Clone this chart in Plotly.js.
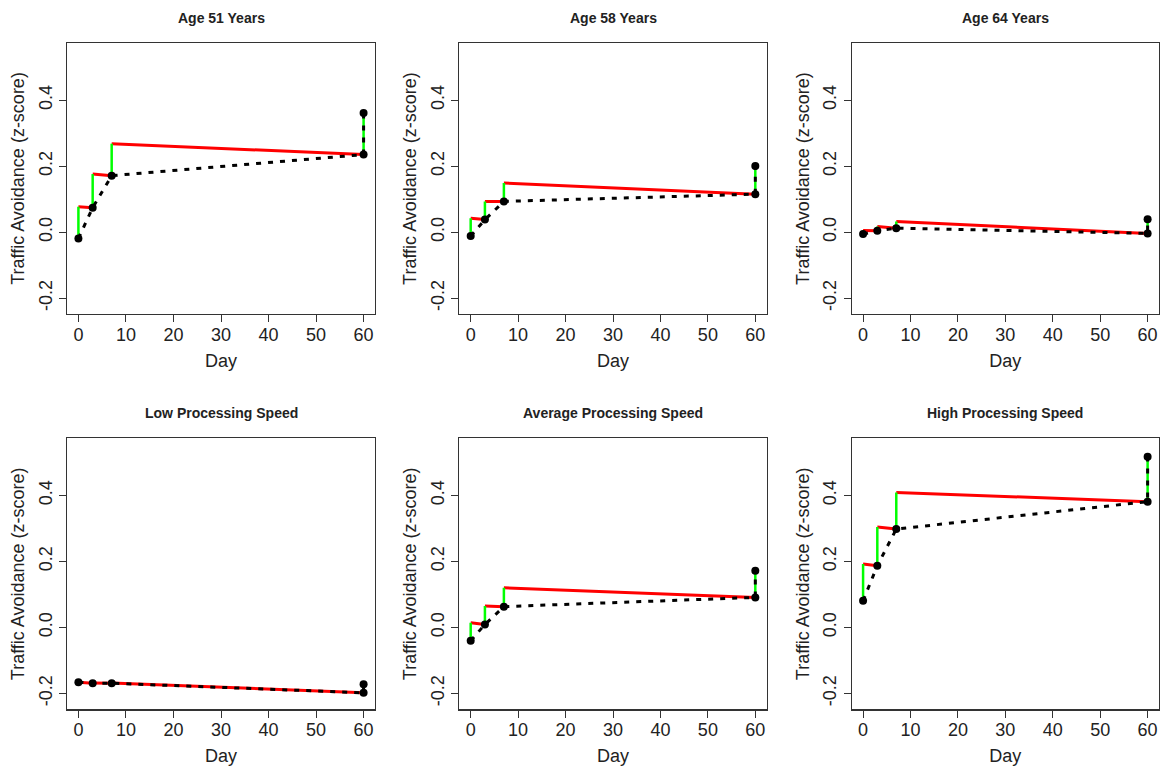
<!DOCTYPE html>
<html>
<head>
<meta charset="utf-8">
<script src="https://cdn.plot.ly/plotly-3.0.1.min.js"></script>
<style>html,body{margin:0;padding:0;background:#fff;}#chart{width:1168px;height:769px;}</style>
</head>
<body>
<div id="chart"></div>
<script>
// Measurement days
const days = [0, 3, 7, 60];

// Panel titles
const panelTitles = ["Age 51 Years", "Age 58 Years", "Age 64 Years",
  "Low Processing Speed", "Average Processing Speed", "High Processing Speed"];

// Value just before the boost at each day (black points)
const preAge51 = [-0.019, 0.074, 0.171, 0.235];
const preAge58 = [-0.012, 0.038, 0.093, 0.115];
const preAge64 = [-0.006, 0.004, 0.012, -0.004];
const preLow   = [-0.166, -0.169, -0.169, -0.198];
const preAvg   = [-0.040, 0.009, 0.063, 0.091];
const preHigh  = [0.081, 0.187, 0.298, 0.381];

// Value just after the boost at each day (top of green jumps)
const postAge51 = [0.077, 0.176, 0.268, 0.361];
const postAge58 = [0.042, 0.093, 0.149, 0.200];
const postAge64 = [0.005, 0.017, 0.032, 0.039];
const postLow   = [-0.166, -0.168, -0.168, -0.172];
const postAvg   = [0.014, 0.065, 0.120, 0.172];
const postHigh  = [0.192, 0.304, 0.409, 0.517];

// Tick labels
const xTickVals = [0, 10, 20, 30, 40, 50, 60];
const xTickText = ["0", "10", "20", "30", "40", "50", "60"];
const yTickVals = [-0.2, 0.0, 0.2, 0.4];
const yTickText = ["-0.2", "0.0", "0.2", "0.4"];

const pre = [preAge51, preAge58, preAge64, preLow, preAvg, preHigh];
const post = [postAge51, postAge58, postAge64, postLow, postAvg, postHigh];

const W = 1168, H = 769;
const xDomPx = [[67, 375], [459.3, 766.7], [851.7, 1159]];
const yDomPx = [[43, 314], [438.3, 709.3]];
const FONT = "Liberation Sans, Arial, sans-serif";
const TXT = "#222";

const traces = [];
const layout = {
  width: W, height: H,
  margin: {l: 0, r: 0, t: 0, b: 0},
  paper_bgcolor: "#fff", plot_bgcolor: "#fff",
  showlegend: false,
  font: {family: FONT, color: TXT, size: 18},
  annotations: []
};

for (let p = 0; p < 6; p++) {
  const col = p % 3, row = Math.floor(p / 3);
  const ax = p === 0 ? "" : String(p + 1);
  const xa = "x" + ax, ya = "y" + ax;
  const pr = pre[p], po = post[p];

  // red decay segments
  const rx = [], ry = [];
  for (let i = 0; i < days.length - 1; i++) {
    rx.push(days[i], days[i + 1], null);
    ry.push(po[i], pr[i + 1], null);
  }
  traces.push({type: "scatter", mode: "lines", x: rx, y: ry, xaxis: xa, yaxis: ya,
    line: {color: "#ff0000", width: 3}, hoverinfo: "skip"});

  // green jumps
  const gx = [], gy = [];
  for (let i = 0; i < days.length; i++) {
    gx.push(days[i], days[i], null);
    gy.push(pr[i], po[i], null);
  }
  traces.push({type: "scatter", mode: "lines", x: gx, y: gy, xaxis: xa, yaxis: ya,
    line: {color: "#00ff00", width: 2.5}, hoverinfo: "skip"});

  // black dotted path through observed points
  const bx = days.slice(), by = pr.slice();
  bx.push(days[days.length - 1]); by.push(po[po.length - 1]);
  traces.push({type: "scatter", mode: "lines", x: bx, y: by, xaxis: xa, yaxis: ya,
    line: {color: "#000", width: 3, dash: "5px,7px"}, hoverinfo: "skip"});
  traces.push({type: "scatter", mode: "markers", x: bx, y: by, xaxis: xa, yaxis: ya,
    marker: {color: "#000", size: 8}});

  const xd = xDomPx[col], yd = yDomPx[row];
  const axLine = {showline: true, mirror: true, linecolor: "#333", linewidth: 1.2,
    ticks: "outside", ticklen: 7, tickcolor: "#333", tickwidth: 1,
    showgrid: false, zeroline: false, fixedrange: true,
    tickfont: {family: FONT, size: 18, color: TXT}};
  layout["xaxis" + ax] = Object.assign({}, axLine, {
    domain: [xd[0] / W, xd[1] / W], anchor: ya, range: [-2.4, 62.4],
    tickmode: "array", tickvals: xTickVals, ticktext: xTickText, ticklabelstandoff: -3,
    title: {text: "Day", font: {family: FONT, size: 18, color: TXT}, standoff: 10}
  });
  layout["yaxis" + ax] = Object.assign({}, axLine, {
    domain: [1 - yd[1] / H, 1 - yd[0] / H], anchor: xa, range: [-0.248, 0.573],
    tickmode: "array", tickvals: yTickVals, ticktext: yTickText, tickangle: -90,
    title: {text: "Traffic Avoidance (z-score)", font: {family: FONT, size: 18, color: TXT}, standoff: 6}
  });
  layout.annotations.push({
    text: "<b>" + panelTitles[p] + "</b>", xref: "paper", yref: "paper",
    x: (xd[0] + xd[1]) / 2 / W, y: 1 - (row === 0 ? 18 : 413) / H,
    xanchor: "center", yanchor: "middle", showarrow: false,
    font: {family: FONT, size: 14, color: TXT}
  });
}

Plotly.newPlot("chart", traces, layout, {displayModeBar: false, staticPlot: true});
</script>
</body>
</html>
